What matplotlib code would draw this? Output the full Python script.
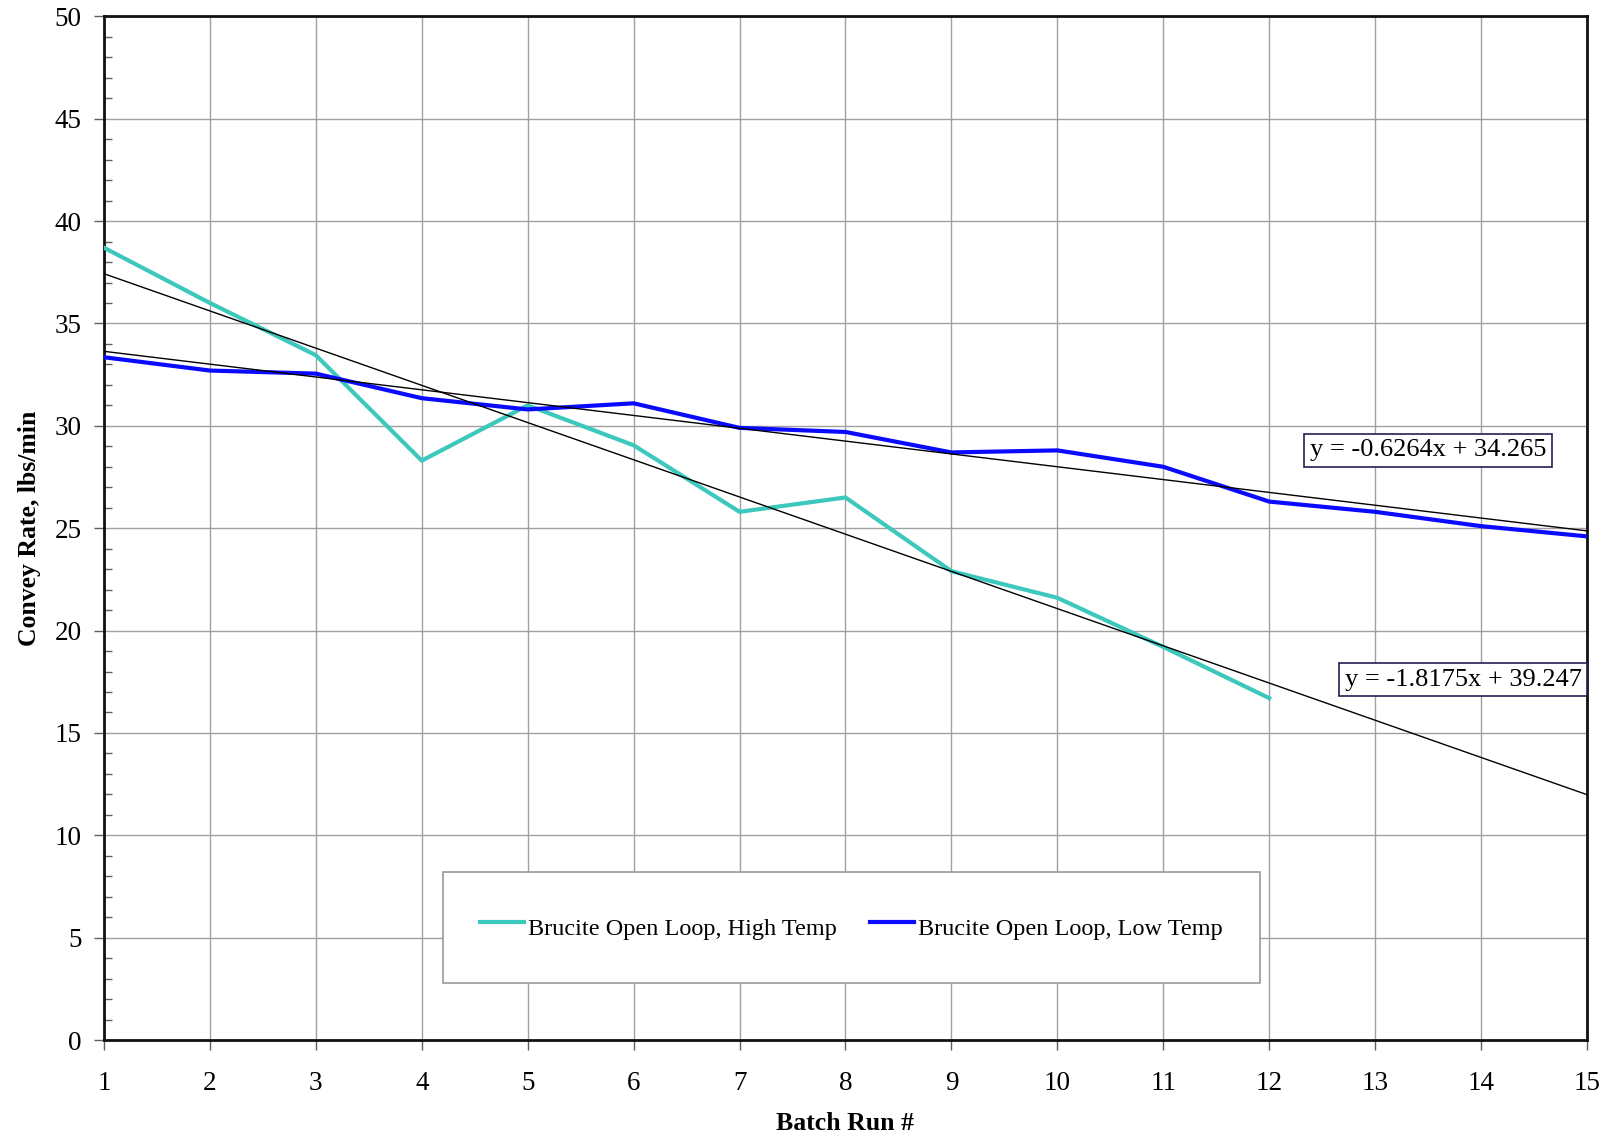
import numpy as np
import matplotlib.pyplot as plt
from matplotlib.ticker import MultipleLocator

plt.rcParams['font.family'] = ['Liberation Serif', 'DejaVu Serif']

# batch runs and convey rates (lbs/min)
runs_high = [1, 2, 3, 4, 5, 6, 7, 8, 9, 10, 11, 12]
rate_high = [38.7, 36.0, 33.45, 28.3, 31.0, 29.05, 25.8, 26.5, 22.9, 21.6, 19.2, 16.7]
runs_low = [1, 2, 3, 4, 5, 6, 7, 8, 9, 10, 11, 12, 13, 14, 15]
rate_low = [33.35, 32.7, 32.55, 31.35, 30.8, 31.1, 29.9, 29.7, 28.7, 28.8, 28.0, 26.3, 25.8, 25.1, 24.6]

# linear trendlines as printed on the chart
fit_high = (-1.8175, 39.247)
fit_low = (-0.6264, 34.265)

label_high = 'Brucite Open Loop, High Temp'
label_low = 'Brucite Open Loop, Low Temp'

fig = plt.figure(figsize=(16.1, 11.37), dpi=100)
ax = fig.add_axes([0.0646, 0.0853, 0.9211, 0.9003])

ax.plot(runs_high, rate_high, color='#3cc8bc', lw=3, label=label_high, zorder=3)
ax.plot(runs_low, rate_low, color='#0a0aff', lw=3, label=label_low, zorder=3)

xt = np.array([1, 15])
ax.plot(xt, fit_high[0]*xt + fit_high[1], color='black', lw=1, zorder=4)
ax.plot(xt, fit_low[0]*xt + fit_low[1], color='black', lw=1, zorder=4)

box = dict(boxstyle='square,pad=0.22', fc='white', ec='#202050', lw=1.2)
ax.text(13.5, 28.8, 'y = -0.6264x + 34.265', fontsize=19, ha='center', va='center', bbox=box, zorder=5)
ax.text(13.83, 17.6, 'y = -1.8175x + 39.247', fontsize=19, ha='center', va='center', bbox=box, zorder=5)

ax.set_xlim(1, 15)
ax.set_ylim(0, 50)
ax.set_xticks(range(1, 16))
ax.yaxis.set_major_locator(MultipleLocator(5))
ax.yaxis.set_minor_locator(MultipleLocator(1))
ax.grid(True, which='major', color='#a0a0a0', lw=1)
ax.tick_params(axis='both', which='major', labelsize=19.5, length=7, width=1, color='#606060')
ax.tick_params(axis='x', which='major', pad=15)
ax.tick_params(axis='y', which='major', pad=9)
ax.tick_params(axis='y', which='minor', direction='in', length=6, width=1, color='#606060')
for s in ax.spines.values():
    s.set_linewidth(2)
    s.set_color('#111111')

ax.set_xlabel('Batch Run #', fontsize=18.5, fontweight='bold', labelpad=12)
ax.set_ylabel('Convey Rate, lbs/min', fontsize=18.5, fontweight='bold', labelpad=10)

leg = ax.legend(loc='center', bbox_to_anchor=(0.504, 0.11), ncol=2, fontsize=17.5,
                handlelength=1.8, handletextpad=0.15, columnspacing=1.4,
                handleheight=1.9, borderpad=1.55, fancybox=False, framealpha=1,
                edgecolor='#999999')
leg.get_frame().set_linewidth(1.2)

plt.savefig('out.png', dpi=100)
